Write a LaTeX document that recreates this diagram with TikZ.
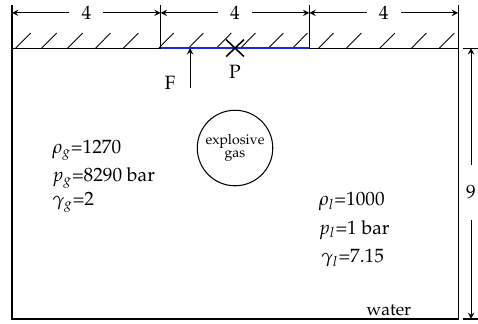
\documentclass[tikz,border=0pt,11pt]{standalone}
\usepackage[T1]{fontenc}
\usepackage{mathpazo}
\usepackage{xcolor}
\usetikzlibrary{arrows, calc}
\definecolor{wallblue}{RGB}{20,40,240}
\tikzset{
  dimline/.style={<->, >=stealth},
  dimlabel/.style={fill=white, inner sep=1pt},
  hatchline/.style={line width=0.5pt},
  datatext/.style={anchor=west, inner sep=0pt},
}

\begin{document}
\begin{tikzpicture}[x=0.7434cm, y=0.602cm, line width=0.6pt]
\useasboundingbox (-0.323,-0.166) rectangle (12.537,10.598);

% wall with hatching
\foreach \x in {0.1,0.8,1.5,2.25,3,3.95,4.75,5.5,6.15,6.9,7.55,8.25,9,9.9,10.75,11.5}{
\draw[hatchline] (\x,9) -- ++(0.4,0.5);
}
\draw (0,0) rectangle (12,9);

% top dimensions
\foreach \a/\b in {0/4,4/8,8/12}{
\coordinate (top\a) at (\a,10.17);
\coordinate (top\b) at (\b,10.17);
\draw (\a,9) -- (\a,10.43);
\draw (\b,9) -- (\b,10.43);
\draw[dimline] (top\a) -- node[dimlabel, inner xsep=7pt] {4} (top\b);
}

% right dimension
\coordinate (rtop) at (12.35,9);
\coordinate (rbot) at (12.35,0);
\draw (12.13,9) -- (12.54,9);
\draw (12.13,0) -- (12.54,0);
\draw[dimline] (rtop) -- node[dimlabel, pos=0.533, inner ysep=12pt] {9} (rbot);

% blue plate, force and probe
\draw[wallblue, line width=1.6pt] (4,9) -- (8,9);
\coordinate (Fbase) at (4.79,7.67);
\coordinate (Ftip) at (4.79,9);
\draw[->, >=stealth] (Fbase) -- (Ftip);
\node (F) at (4.25,7.84) {F};
\coordinate (P) at (6,9);
\draw[line width=0.9pt] ($(P)+(-0.24,-0.28)$) -- ($(P)+(0.24,0.28)$);
\draw[line width=0.9pt] ($(P)+(-0.24,0.28)$) -- ($(P)+(0.24,-0.28)$);
\node (Plabel) at (6,8.2) {P};

% gas bubble
\node[draw, circle, minimum size=1.51cm, inner sep=0pt, align=center,
  font=\scriptsize] (gas) at (6,5.68) {explosive\\[-2pt]gas};

% states
\node[datatext] (rhog) at (1.07,5.61) {$\rho_g$=1270};
\node[datatext] (pg) at (1.07,4.68) {$p_g$=8290 bar};
\node[datatext] (gamg) at (1.07,3.89) {$\gamma_g$=2};
\node[datatext] (rhol) at (8.24,3.89) {$\rho_l$=1000};
\node[datatext] (pl) at (8.24,2.96) {$p_l$=1 bar};
\node[datatext] (gaml) at (8.3,2.03) {$\gamma_l$=7.15};
\node[font=\small] (water) at (10.14,0.3) {water};

\end{tikzpicture}
\end{document}
